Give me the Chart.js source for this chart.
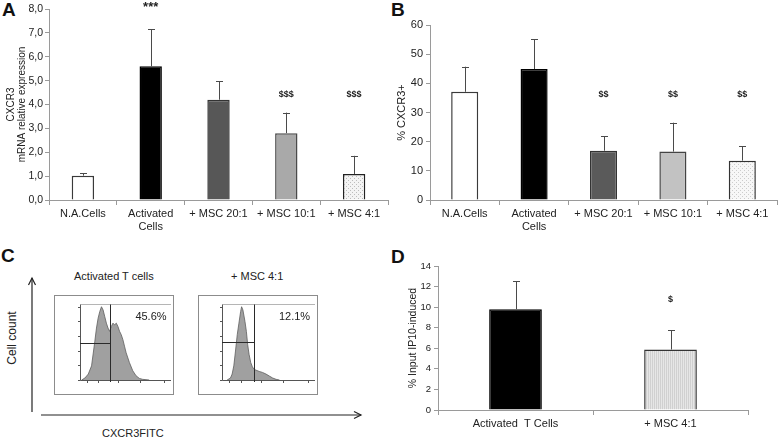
<!DOCTYPE html>
<html>
<head>
<meta charset="utf-8">
<script src="https://cdn.jsdelivr.net/npm/chart.js"></script>
<style>
body { margin: 0; background: #fff; }
#fig { position: relative; width: 778px; height: 439px; overflow: hidden; background: #fff;
       font-family: "Liberation Sans", Arial, sans-serif; color: #222; }
#fig canvas { position: absolute; }
.letter { position: absolute; font-weight: bold; font-size: 19px; line-height: 19px; color: #111; }
.txt { position: absolute; font-size: 11px; line-height: 12px; white-space: nowrap; color: #222; }
</style>
</head>
<body>
<div id="fig">
  <div class="letter" style="left:2px;top:0px">A</div>
  <div class="letter" style="left:391px;top:0px">B</div>
  <div class="letter" style="left:1px;top:246px">C</div>
  <div class="letter" style="left:391px;top:247px">D</div>

  <canvas id="chartA" style="left:0;top:0" width="390" height="232"></canvas>
  <canvas id="chartB" style="left:390px;top:0" width="388" height="232"></canvas>
  <canvas id="chartD" style="left:390px;top:232px" width="388" height="207"></canvas>
  <canvas id="hist1" style="left:54px;top:295px" width="120" height="100"></canvas>
  <canvas id="hist2" style="left:198px;top:295px" width="120" height="100"></canvas>

  <div class="txt" style="left:74px;top:270px">Activated T cells</div>
  <div class="txt" style="left:231px;top:270px">+ MSC 4:1</div>
  <div class="txt" style="left:-15px;top:332px;transform:rotate(-90deg);font-size:12px">Cell count</div>
  <div class="txt" style="left:102px;top:427px">CXCR3FITC</div>

  <svg style="position:absolute;left:0;top:0" width="390" height="439">
    <g stroke="#222" stroke-width="1.2" fill="none">
      <line x1="32" y1="412" x2="32" y2="278"/>
      <polyline points="28.5,285 32,278 35.5,285"/>
      <line x1="41" y1="415" x2="361" y2="415"/>
      <polyline points="354,411.5 361,415 354,418.5"/>
    </g>
  </svg>
</div>

<script>
// Panel A - CXCR3 mRNA relative expression
var categories = [['N.A.Cells'], ['Activated', 'Cells'], '+ MSC 20:1', '+ MSC 10:1', '+ MSC 4:1'];
var mrnaValues = [1.02, 5.6, 4.2, 2.8, 1.09];
var mrnaErrors = [0.1, 1.56, 0.77, 0.86, 0.76];
var mrnaSig = ['', '***', '', '$$$', '$$$'];
var mrnaSigLevel = [null, 8.08, null, 4.41, 4.41];

// Panel B - % CXCR3+
var cxcr3Values = [37.1, 44.9, 16.9, 16.6, 13.5];
var cxcr3Errors = [8.6, 10.3, 5.0, 9.9, 5.0];
var cxcr3Sig = ['', '', '$$', '$$', '$$'];
var cxcr3SigLevel = [null, null, 36.3, 36.3, 36.3];

// Panel D - migration
var migrationCategories = ['Activated  T Cells', '+ MSC 4:1'];
var migrationValues = [9.8, 5.88];
var migrationErrors = [2.74, 1.88];
var migrationSig = ['', '$'];
var migrationSigLevel = [null, 10.77];

// Panel C - flow histograms (CXCR3 FITC, channel % vs relative count)
var histActX = [1.8, 5.4, 9.1, 12.7, 16.3, 18.1, 19.9, 21.7, 23.6, 25.4, 27.2, 29, 30.8, 32.6, 34.4, 36.2, 38, 39.9, 41.7, 43.5, 45.3, 47.1, 48.9, 50.7, 54.3, 58, 61.6, 65.2, 68.8, 76];
var histActY = [0, 2.7, 8.1, 19.3, 52.9, 70.9, 84.3, 93.3, 100, 95.5, 86.5, 77.6, 70.9, 66.4, 73, 77.6, 75.3, 77.6, 73, 66.4, 61.9, 55.2, 46.2, 37.2, 23.8, 12.6, 5.8, 2.2, 0.9, 0];
var histMscX = [5.5, 9.1, 10.9, 12.7, 14.5, 16.4, 18.2, 20, 21.1, 22.5, 24.7, 26.2, 27.6, 29.1, 30.9, 32.7, 34.5, 36.4, 40, 43.6, 47.3, 50.9, 54.5, 58.2, 61.8];
var histMscY = [0, 2.7, 8.1, 19.3, 39.5, 61.9, 77.6, 93.3, 100, 95.5, 79.8, 66.4, 48.4, 35, 23.8, 17.9, 14.8, 13.5, 11.7, 10.3, 8.1, 5.4, 2.7, 0.9, 0];
var gateX = [32.6, 34.5];
var gateY = [50.7, 52];
var gatePercent = ['45.6%', '12.1%'];

var FONT = '"Liberation Sans", Arial, sans-serif';
var AXIS_GREY = '#9a9a9a';

function makePattern(bg, fg, kind) {
    var c = document.createElement('canvas');
    c.width = 4; c.height = 4;
    var g = c.getContext('2d');
    g.fillStyle = bg;
    g.fillRect(0, 0, 4, 4);
    g.fillStyle = fg;
    if (kind === 'dots') {
        g.fillRect(0, 0, 1, 1);
        g.fillRect(2, 2, 1, 1);
    } else {
        g.fillRect(0, 0, 1, 4);
        g.fillRect(2, 0, 1, 4);
    }
    return g.createPattern(c, 'repeat');
}

var errorBarPlugin = {
    id: 'errorBars',
    afterDatasetsDraw: function(chart, args, opts) {
        var ctx = chart.ctx;
        var meta = chart.getDatasetMeta(0);
        var yScale = chart.scales.y;
        var values = chart.data.datasets[0].data;
        ctx.save();
        ctx.strokeStyle = '#4a4a4a';
        ctx.lineWidth = 1;
        meta.data.forEach(function(bar, i) {
            var top = yScale.getPixelForValue(values[i] + opts.errors[i]);
            var x = Math.round(bar.x) + 0.5;
            ctx.beginPath();
            ctx.moveTo(x, bar.y);
            ctx.lineTo(x, top);
            ctx.moveTo(x - 3.5, Math.round(top) + 0.5);
            ctx.lineTo(x + 3.5, Math.round(top) + 0.5);
            ctx.stroke();
            var s = opts.sig[i];
            if (s) {
                ctx.fillStyle = '#222';
                // stars are printed larger than the $ marks
                ctx.font = s.indexOf('*') >= 0 ? 'bold 13px ' + FONT : 'bold 9px ' + FONT;
                ctx.textAlign = 'center';
                ctx.textBaseline = 'middle';
                ctx.fillText(s, bar.x, yScale.getPixelForValue(opts.sigLevels[i]));
            }
        });
        ctx.restore();
    }
};

function barChart(id, cfg) {
    var ctx = document.getElementById(id).getContext('2d');
    return new Chart(ctx, {
        type: 'bar',
        data: {
            labels: cfg.labels,
            datasets: [{
                data: cfg.values,
                backgroundColor: cfg.colors,
                borderColor: cfg.borders,
                borderWidth: 1.5,
                barPercentage: cfg.barPct,
                categoryPercentage: 1
            }]
        },
        options: {
            responsive: false,
            animation: false,
            layout: { padding: cfg.padding },
            plugins: {
                legend: { display: false },
                tooltip: { enabled: false },
                errorBars: { errors: cfg.errors, sig: cfg.sig, sigLevels: cfg.sigLevels }
            },
            scales: {
                x: {
                    grid: { drawOnChartArea: false, tickLength: 5, color: AXIS_GREY, offset: true },
                    border: { color: AXIS_GREY },
                    ticks: { color: '#222', font: { family: FONT, size: cfg.labelSize }, padding: 2, maxRotation: 0, autoSkip: false },
                    afterFit: function(scale) { scale.height = cfg.xHeight; }
                },
                y: {
                    min: 0,
                    max: cfg.max,
                    grid: { drawOnChartArea: false, tickLength: 4, color: AXIS_GREY },
                    border: { color: AXIS_GREY },
                    ticks: { stepSize: cfg.step, color: '#222', font: { family: FONT, size: cfg.tickSize }, padding: cfg.tickPad, callback: cfg.tickFmt },
                    title: { display: true, text: cfg.title, color: '#222', font: { family: FONT, size: cfg.titleSize, lineHeight: 1.1 }, padding: { top: cfg.titlePad, bottom: 0 } },
                    afterFit: function(scale) { scale.width = cfg.yWidth; }
                }
            }
        },
        plugins: [errorBarPlugin]
    });
}

barChart('chartA', {
    labels: categories,
    values: mrnaValues,
    errors: mrnaErrors,
    sig: mrnaSig,
    sigLevels: mrnaSigLevel,
    colors: ['#ffffff', '#000000', '#575757', '#a9a9a9', makePattern('#f4f4f4', '#bdbdbd', 'dots')],
    borders: ['#3a3a3a', '#000000', '#333333', '#4a4a4a', '#222222'],
    barPct: 0.33,
    padding: { top: 9, right: 2, left: 0, bottom: 0 },
    max: 8, step: 1, tickSize: 10.5, tickPad: 2, labelSize: 11,
    tickFmt: function(v) { return v.toFixed(1).replace('.', ','); },
    title: ['CXCR3', 'mRNA relative expression'],
    titleSize: 10, titlePad: 6,
    yWidth: 49, xHeight: 32
});

barChart('chartB', {
    labels: categories,
    values: cxcr3Values,
    errors: cxcr3Errors,
    sig: cxcr3Sig,
    sigLevels: cxcr3SigLevel,
    colors: ['#ffffff', '#000000', '#5a5a5a', '#c2c2c2', makePattern('#f7f7f7', '#cccccc', 'dots')],
    borders: ['#3a3a3a', '#000000', '#333333', '#444444', '#333333'],
    barPct: 0.39,
    padding: { top: 25, right: 1, left: 0, bottom: 0 },
    max: 60, step: 10, tickSize: 11, tickPad: 3, labelSize: 11,
    tickFmt: function(v) { return v; },
    title: '% CXCR3+',
    titleSize: 11, titlePad: 6,
    yWidth: 40, xHeight: 32
});

barChart('chartD', {
    labels: migrationCategories,
    values: migrationValues,
    errors: migrationErrors,
    sig: migrationSig,
    sigLevels: migrationSigLevel,
    colors: ['#000000', makePattern('#e6e6e6', '#d0d0d0', 'stripes')],
    borders: ['#000000', '#333333'],
    barPct: 0.34,
    padding: { top: 34, right: 30, left: 0, bottom: 0 },
    max: 14, step: 2, tickSize: 9.5, tickPad: 3, labelSize: 11,
    tickFmt: function(v) { return v; },
    title: '% Input IP10-induced',
    titleSize: 10.5, titlePad: 17,
    yWidth: 48, xHeight: 29
});

// flow cytometry histograms
var gatePlugin = {
    id: 'gates',
    beforeDraw: function(chart) {
        var ctx = chart.ctx;
        ctx.save();
        ctx.strokeStyle = '#8c8c8c';
        ctx.lineWidth = 1;
        ctx.strokeRect(0.5, 0.5, chart.width - 1, chart.height - 1);
        ctx.restore();
    },
    afterDatasetsDraw: function(chart, args, opts) {
        var ctx = chart.ctx;
        var a = chart.chartArea;
        var xs = chart.scales.x, ys = chart.scales.y;
        ctx.save();
        // inner plot frame and ticks
        ctx.strokeStyle = '#b5b5b5';
        ctx.lineWidth = 1;
        ctx.beginPath();
        ctx.moveTo(a.left + 0.5, a.top - 1.5);
        ctx.lineTo(a.right, a.top - 1.5);
        ctx.stroke();
        ctx.strokeStyle = '#555';
        ctx.beginPath();
        ctx.moveTo(a.left + 0.5, a.top - 1.5);
        ctx.lineTo(a.left + 0.5, a.bottom + 0.5);
        ctx.lineTo(a.right, a.bottom + 0.5);
        [0, 20, 40, 60, 80, 100].forEach(function(v) {
            var y = Math.round(ys.getPixelForValue(v)) + 0.5;
            ctx.moveTo(a.left - 2, y);
            ctx.lineTo(a.left + 0.5, y);
        });
        [8, 20, 42, 66, 92].forEach(function(v) {
            var x = Math.round(xs.getPixelForValue(v)) + 0.5;
            ctx.moveTo(x, a.bottom + 0.5);
            ctx.lineTo(x, a.bottom + 3);
        });
        ctx.stroke();
        // gates
        var gx = Math.round(xs.getPixelForValue(opts.gateX)) + 0.5;
        var gy = Math.round(ys.getPixelForValue(opts.gateY)) + 0.5;
        ctx.strokeStyle = '#2a2a2a';
        ctx.beginPath();
        ctx.moveTo(gx, a.top - 1.5);
        ctx.lineTo(gx, a.bottom + 2);
        ctx.moveTo(a.left, gy);
        ctx.lineTo(gx, gy);
        ctx.stroke();
        ctx.fillStyle = '#222';
        ctx.font = '11px ' + FONT;
        ctx.textAlign = 'center';
        ctx.textBaseline = 'middle';
        ctx.fillText(opts.label, xs.getPixelForValue(opts.labelX), a.top + 11);
        ctx.restore();
    }
};

function histChart(id, xs, ys, gx, gy, label, padLeft) {
    var pts = xs.map(function(x, i) { return { x: x, y: ys[i] }; });
    return new Chart(document.getElementById(id).getContext('2d'), {
        type: 'line',
        data: {
            datasets: [{
                data: pts,
                fill: 'origin',
                backgroundColor: '#a0a0a0',
                borderColor: '#5e5e5e',
                borderWidth: 0.8,
                pointRadius: 0,
                tension: 0
            }]
        },
        options: {
            responsive: false,
            animation: false,
            layout: { padding: { left: padLeft, right: 3, top: 11, bottom: 15 } },
            plugins: {
                legend: { display: false },
                tooltip: { enabled: false },
                gates: { gateX: gx, gateY: gy, label: label, labelX: 78 }
            },
            scales: {
                x: { type: 'linear', min: 0, max: 100, display: false },
                y: { min: 0, max: 101, display: false }
            }
        },
        plugins: [gatePlugin]
    });
}

histChart('hist1', histActX, histActY, gateX[0], gateY[0], gatePercent[0], 26);
histChart('hist2', histMscX, histMscY, gateX[1], gateY[1], gatePercent[1], 24);
</script>
</body>
</html>
